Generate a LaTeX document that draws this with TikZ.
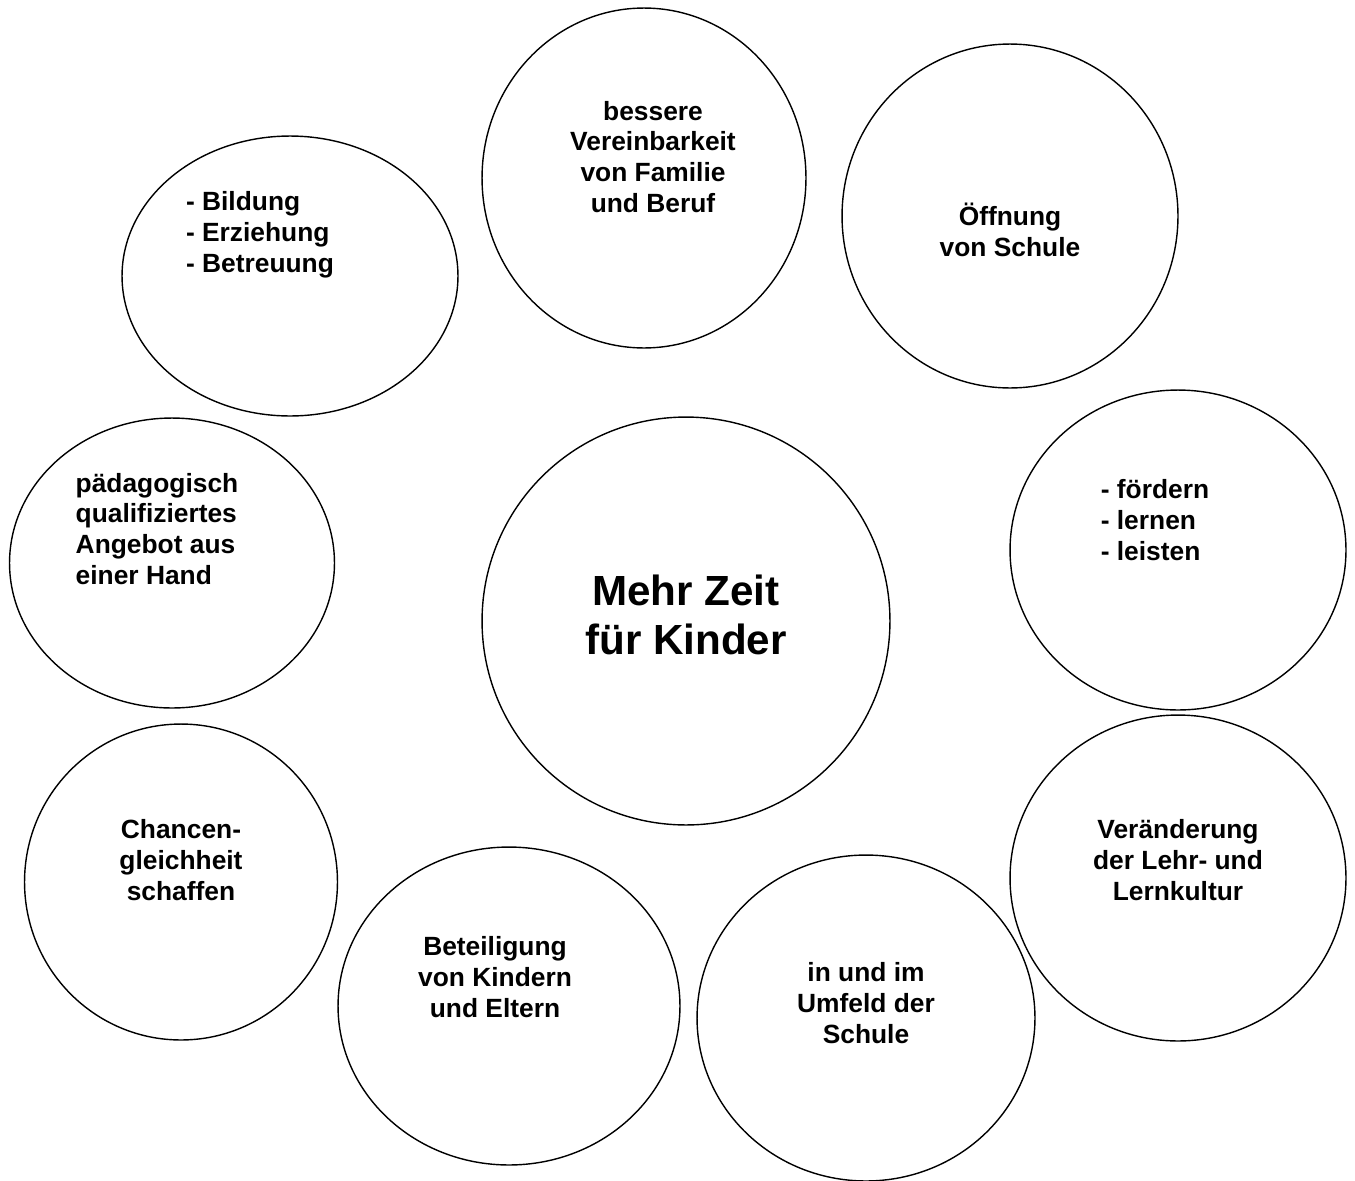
\documentclass[tikz,border=0pt]{standalone}
\usepackage{fontspec}
\setmainfont{Liberation Sans}
\usetikzlibrary{shapes.geometric}

\begin{document}
\begin{tikzpicture}[
		x=0.02cm, y=-0.02cm,
		bubble/.style={
			ellipse,
			draw,
			line width=0.8pt,
			inner sep=0pt,
		},
		txt/.style={
			font=\fontsize{15}{17.6}\selectfont\bfseries,
			inner sep=0pt,
		},
		bigtxt/.style={
			font=\fontsize{24}{28.3}\selectfont\bfseries,
			inner sep=0pt,
			align=center,
		},
		]
		\useasboundingbox (0,0) rectangle (1355,1180);
		% Draw the central bubble
		\node [bubble,minimum width=8.16cm,minimum height=8.16cm] (kern) at (686,621) {};
		\node [bigtxt] (kerntxt) at (686,615) {Mehr Zeit\\für Kinder};
		% Draw the outer bubbles
		\node [bubble,minimum width=6.72cm,minimum height=5.6cm] (bildung) at (290,276) {};
		\node [bubble,minimum width=6.48cm,minimum height=6.8cm] (beruf) at (644,178) {};
		\node [bubble,minimum width=6.72cm,minimum height=6.88cm] (oeffnung) at (1010,216) {};
		\node [bubble,minimum width=6.72cm,minimum height=6.4cm] (foerdern) at (1178,550) {};
		\node [bubble,minimum width=6.5cm,minimum height=5.8cm] (angebot) at (172,563) {};
		\node [bubble,minimum width=6.26cm,minimum height=6.32cm] (chancen) at (181,882) {};
		\node [bubble,minimum width=6.84cm,minimum height=6.36cm] (beteiligung) at (509,1006) {};
		\node [bubble,minimum width=6.76cm,minimum height=6.52cm] (umfeld) at (866,1018) {};
		\node [bubble,minimum width=6.72cm,minimum height=6.52cm] (kultur) at (1178,878) {};
		% Draw the labels
		\node [txt,align=left] (bildungtxt) at (260,235) {- Bildung\\- Erziehung\\- Betreuung};
		\node [txt,align=center] (beruftxt) at (653,157) {bessere\\Vereinbarkeit\\von Familie\\und Beruf};
		\node [txt,align=center] (oeffnungtxt) at (1010,230) {Öffnung\\von Schule};
		\node [txt,align=left] (foerderntxt) at (1155,520) {- fördern\\- lernen\\- leisten};
		\node [txt,align=left] (angebottxt) at (157,529) {pädagogisch\\qualifiziertes\\Angebot aus\\einer Hand};
		\node [txt,align=center] (chancentxt) at (181,860) {Chancen-\\gleichheit\\schaffen};
		\node [txt,align=center] (beteiligungtxt) at (495,977) {Beteiligung\\von Kindern\\und Eltern};
		\node [txt,align=center] (umfeldtxt) at (866,1003) {in und im\\Umfeld der\\Schule};
		\node [txt,align=center] (kulturtxt) at (1178,860) {Veränderung\\der Lehr- und\\Lernkultur};
	\end{tikzpicture}
\end{document}
